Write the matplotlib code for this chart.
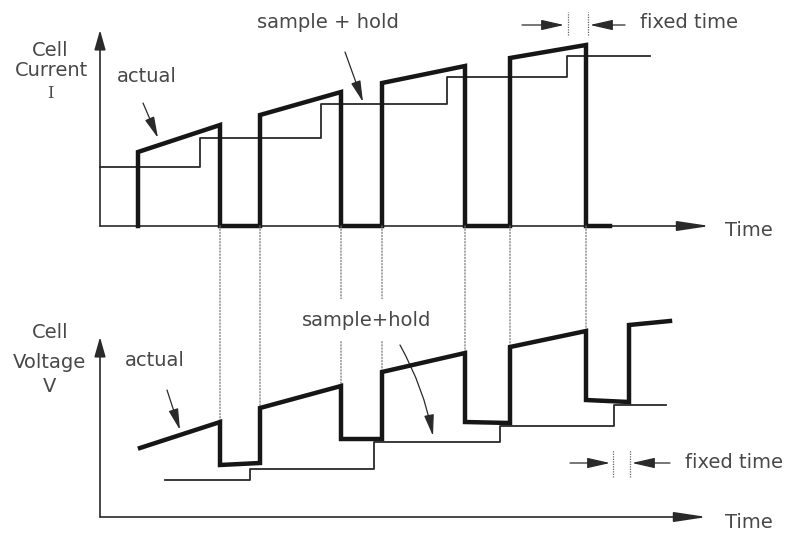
import matplotlib
matplotlib.use("Agg")
import matplotlib.pyplot as plt
from matplotlib.patches import ConnectionPatch

# ---------------- data (time units, amplitude units) ----------------
pulse_on = [38, 160, 282, 410, 529]
pulse_off = [120, 241, 365, 486, 570]
current_tail_end = 510

i_start = [74, 111, 143, 168]
i_end = [101, 134, 160, 181]

sh_i_times = [0, 100, 221, 347, 467, 550]
sh_i_levels = [59, 88, 122, 149, 170]

v_high_start = [69, 109, 145, 170, 192]
v_high_end = [95, 131, 164, 186, 196]
v_low_start = [52, 78, 95, 117]
v_low_end = [54, 78, 94, 115]

sh_v_times = [65, 150, 274, 400, 514, 566]
sh_v_levels = [37, 48, 75, 91, 112]

fixed_top = [468, 488]
fixed_bot = [513, 530]

# ---------------- figure ----------------
W, H = 790, 533
fig = plt.figure(figsize=(W / 100, H / 100), dpi=100)
fig.patch.set_facecolor("white")

split = 265
ax_t = fig.add_axes([0, 1 - split / H, 1, split / H])
ax_b = fig.add_axes([0, 0, 1, (H - split) / H])
for ax in (ax_t, ax_b):
    ax.set_axis_off()
    ax.set_facecolor("none")
    ax.set_xlim(-100, 690)
ax_t.set_ylim(-39, 226)
ax_b.set_ylim(-16, 252)

THICK = "#161616"
THIN = "#2a2a2a"
TXT = "#484848"
FONT = "DejaVu Sans"
FS = 14


def axis_arrow(ax, start, tip, hl, hw):
    ax.annotate("", xy=tip, xytext=start,
                arrowprops=dict(arrowstyle=f"-|>,head_length={hl},head_width={hw}",
                                lw=1.2, color=THIN, shrinkA=0, shrinkB=0,
                                mutation_scale=20))


def pointer(ax, start, tip, rad=0.0):
    ax.annotate("", xy=tip, xytext=start,
                arrowprops=dict(arrowstyle="-|>,head_length=0.65,head_width=0.15",
                                lw=0.9, color=THIN, shrinkA=0, shrinkB=0,
                                mutation_scale=20,
                                connectionstyle=f"arc3,rad={rad}"))


# ---------- top panel: current ----------
axis_arrow(ax_t, (0, 0), (0, 196), 0.6, 0.17)
axis_arrow(ax_t, (0, 0), (610, 0), 1.0, 0.15)

cx, cy = [], []
for k in range(4):
    cx += [pulse_on[k], pulse_on[k], pulse_off[k], pulse_off[k]]
    cy += [0, i_start[k], i_end[k], 0]
cx.append(current_tail_end)
cy.append(0)
ax_t.plot(cx, cy, color=THICK, lw=3.2, solid_joinstyle="miter", zorder=4)

ax_t.step(sh_i_times, sh_i_levels + [sh_i_levels[-1]], where="post",
          color=THIN, lw=1.3, zorder=3)

# fixed time marker (top)
for t in fixed_top:
    ax_t.plot([t, t], [191, 214], color="#666666", lw=0.9, ls=(0, (1, 1)))
ax_t.annotate("", xy=(fixed_top[0] - 4, 201), xytext=(422, 201),
              arrowprops=dict(arrowstyle="-|>,head_length=0.7,head_width=0.16",
                              lw=0.9, color=THIN, shrinkA=0, shrinkB=0, mutation_scale=20))
ax_t.annotate("", xy=(fixed_top[1] + 2, 201), xytext=(525, 201),
              arrowprops=dict(arrowstyle="-|>,head_length=0.7,head_width=0.16",
                              lw=0.9, color=THIN, shrinkA=0, shrinkB=0, mutation_scale=20))

ax_t.text(-50, 176, "Cell", ha="center", va="center", fontsize=FS, color=TXT, family=FONT)
ax_t.text(-49, 156, "Current", ha="center", va="center", fontsize=FS, color=TXT, family=FONT)
ax_t.text(-50, 133, "I", ha="center", va="center", fontsize=11.5, color=TXT, family="DejaVu Serif")
ax_t.text(17, 149, "actual", ha="left", va="center", fontsize=FS, color=TXT, family=FONT)
ax_t.text(157, 204, "sample + hold", ha="left", va="center", fontsize=FS, color=TXT, family=FONT)
ax_t.text(540, 204, "fixed time", ha="left", va="center", fontsize=FS, color=TXT, family=FONT)
ax_t.text(625, -4, "Time", ha="left", va="center", fontsize=FS, color=TXT, family=FONT)

pointer(ax_t, (43, 123), (58, 88))
pointer(ax_t, (245, 174), (263, 124))

# ---------- bottom panel: voltage ----------
axis_arrow(ax_b, (0, 0), (0, 180), 0.6, 0.17)
axis_arrow(ax_b, (0, 0), (607, 0), 1.0, 0.15)

vx, vy = [], []
for k in range(5):
    vx += [pulse_on[k], pulse_off[k]]
    vy += [v_high_start[k], v_high_end[k]]
    if k < 4:
        vx += [pulse_off[k], pulse_on[k + 1]]
        vy += [v_low_start[k], v_low_end[k]]
vx[0] = 40
ax_b.plot(vx, vy, color=THICK, lw=3.2, solid_joinstyle="miter", zorder=4)

ax_b.step(sh_v_times, sh_v_levels + [sh_v_levels[-1]], where="post",
          color=THIN, lw=1.3, zorder=3)

for t in fixed_bot:
    ax_b.plot([t, t], [40, 67], color="#666666", lw=0.9, ls=(0, (1, 1)))
ax_b.annotate("", xy=(fixed_bot[0] - 3, 54), xytext=(470, 54),
              arrowprops=dict(arrowstyle="-|>,head_length=0.7,head_width=0.16",
                              lw=0.9, color=THIN, shrinkA=0, shrinkB=0, mutation_scale=20))
ax_b.annotate("", xy=(fixed_bot[1] + 2, 54), xytext=(570, 54),
              arrowprops=dict(arrowstyle="-|>,head_length=0.7,head_width=0.16",
                              lw=0.9, color=THIN, shrinkA=0, shrinkB=0, mutation_scale=20))

ax_b.text(-50, 184, "Cell", ha="center", va="center", fontsize=FS, color=TXT, family=FONT)
ax_b.text(-51, 155, "Voltage", ha="center", va="center", fontsize=FS, color=TXT, family=FONT)
ax_b.text(-50, 130, "V", ha="center", va="center", fontsize=FS, color=TXT, family=FONT)
ax_b.text(25, 157, "actual", ha="left", va="center", fontsize=FS, color=TXT, family=FONT)
ax_b.text(202, 197, "sample+hold", ha="left", va="center", fontsize=FS, color=TXT, family=FONT,
          zorder=6, bbox=dict(facecolor="white", edgecolor="none", pad=8))
ax_b.text(585, 54, "fixed time", ha="left", va="center", fontsize=FS, color=TXT, family=FONT)
ax_b.text(625, -5, "Time", ha="left", va="center", fontsize=FS, color=TXT, family=FONT)

pointer(ax_b, (67, 127), (80, 87))
pointer(ax_b, (300, 172), (333, 81), rad=-0.08)

# ---------- dotted guide lines linking current edges to voltage edges ----------
edges = []
for k in range(4):
    if k > 0:
        edges.append((pulse_on[k], v_high_start[k]))
    edges.append((pulse_off[k], v_high_end[k]))
for t, v in edges:
    con = ConnectionPatch(xyA=(t, 0), coordsA=ax_t.transData,
                          xyB=(t, v), coordsB=ax_b.transData,
                          color="#777777", lw=0.9, ls=(0, (1, 1.5)), zorder=1)
    con.set_clip_on(False)
    ax_b.add_artist(con)

fig.savefig("out.png", dpi=100, facecolor="white")
